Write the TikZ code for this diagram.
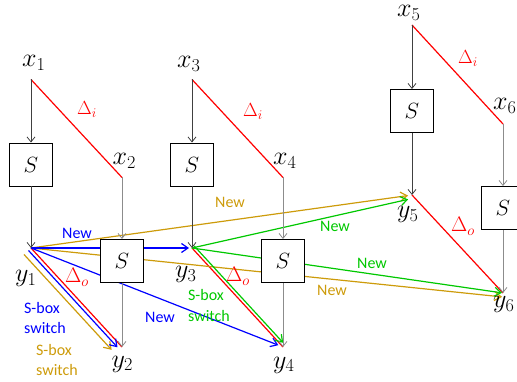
\documentclass[tikz,border=0pt]{standalone}
\usepackage{fix-cm}
\usepackage[no-math]{fontspec}
\newfontfamily\lab{Carlito}
\usetikzlibrary{arrows.meta,calc}
\definecolor{gold}{RGB}{205,155,10}
\definecolor{grn}{RGB}{0,200,0}
\definecolor{blu}{RGB}{0,0,255}
\definecolor{rd}{RGB}{255,0,0}
\begin{document}
\begin{tikzpicture}[x=1pt,y=-1pt,
 sbox/.style={draw=black, line width=0.9pt, fill=white, minimum size=43pt, inner sep=0pt, font=\fontsize{22}{24}\selectfont},
 var/.style={inner sep=0pt, anchor=base west, font=\fontsize{26}{30}\selectfont},
 dlti/.style={inner sep=0pt, anchor=base west, text=rd, font=\fontsize{19}{22}\selectfont},
 dlto/.style={inner sep=0pt, anchor=base west, text=rd, font=\fontsize{21}{24}\selectfont},
 lbl/.style={inner sep=0pt, anchor=base west, font=\lab\fontsize{16}{20}\selectfont},
 grayarr/.style={-{Straight Barb[length=5pt,width=8pt]}, line width=0.8pt},
 darkln/.style={grayarr, draw=black!75},
 lightln/.style={grayarr, draw=black!45},
 diffln/.style={draw=rd, line width=1.2pt},
 colarr/.style={-{Straight Barb[length=6.5pt,width=9pt]}, line width=1.2pt},
]
\useasboundingbox (0,0) rectangle (517,382);
% points
\coordinate (x1) at (31,79.5);
\coordinate (x2) at (122,177.5);
\coordinate (y1) at (31,248);
\coordinate (y2) at (122,347);
\coordinate (x3) at (192,79.5);
\coordinate (x4) at (283,177.5);
\coordinate (y3) at (192,248);
\coordinate (y4) at (283,347);
\coordinate (x5) at (412,25);
\coordinate (x6) at (503,124);
\coordinate (y5) at (412,195);
\coordinate (y6) at (503,293);
% offset end points
\coordinate (b1) at ($(y1)+(-2.5,2.5)$);
\coordinate (b2) at ($(y2)+(-2.5,2.5)$);
\coordinate (g1) at ($(y1)+(-7,6.5)$);
\coordinate (g2) at ($(y2)+(-7,6.5)$);
\coordinate (n3) at ($(y3)+(2.2,-2)$);
\coordinate (n4) at ($(y4)+(2.2,-2)$);
\coordinate (y5g) at ($(y5)+(0,3.5)$);
\coordinate (y6g) at ($(y6)+(0,4)$);
% red differences
\draw[diffln] (x1) -- (x2);
\draw[diffln] (x3) -- (x4);
\draw[diffln] (x5) -- (x6);
\draw[diffln] (y1) -- (y2);
\draw[diffln] (y3) -- (y4);
\draw[diffln] (y5) -- (y6);
% gold
\draw[colarr, draw=gold, shorten >=4pt] (y1) -- (y5);
\draw[colarr, draw=gold, shorten >=1pt] (y1) -- (y6g);
\draw[colarr, draw=gold, shorten >=5pt] (g1) -- (g2);
% blue
\draw[colarr, draw=blu, shorten >=3pt] (y1) -- (y3);
\draw[colarr, draw=blu, shorten >=5pt] (y1) -- (y4);
\draw[colarr, draw=blu, shorten >=3pt] (b1) -- (b2);
% green
\draw[colarr, draw=grn, shorten >=4pt] (y3) -- (y5g);
\draw[colarr, draw=grn, shorten >=1pt] (y3) -- (y6);
\draw[colarr, draw=grn, shorten >=3pt] (n3) -- (n4);
% S boxes
\node[sbox] (s1) at (31,164.5) {$S$};
\node[sbox] (s2) at (122,261) {$S$};
\node[sbox] (s3) at (192,164.5) {$S$};
\node[sbox] (s4) at (283,261) {$S$};
\node[sbox] (s5) at (412,111) {$S$};
\node[sbox] (s6) at (503,208) {$S$};
% gray arrows
\draw[darkln] (x1) -- (s1.north);
\draw[darkln] (s1.south) -- (y1);
\draw[lightln] (x2) -- (s2.north);
\draw[lightln] (s2.south) -- (y2);
\draw[darkln] (x3) -- (s3.north);
\draw[darkln] (s3.south) -- (y3);
\draw[lightln] (x4) -- (s4.north);
\draw[lightln] (s4.south) -- (y4);
\draw[darkln] (x5) -- (s5.north);
\draw[darkln] (s5.south) -- (y5);
\draw[lightln] (x6) -- (s6.north);
\draw[lightln] (s6.south) -- (y6);
% variable labels
\node[var] (lx1) at (22,67) {$x_1$};
\node[var] (lx2) at (112.5,165) {$x_2$};
\node[var] (lx3) at (177,68) {$x_3$};
\node[var] (lx4) at (273,165) {$x_4$};
\node[var] (lx5) at (397,16.5) {$x_5$};
\node[var] (lx6) at (493,110) {$x_6$};
\node[var] (ly1) at (15,282) {$y_1$};
\node[var] (ly2) at (111.5,367) {$y_2$};
\node[var] (ly3) at (175,278) {$y_3$};
\node[var] (ly4) at (273,368) {$y_4$};
\node[var] (ly5) at (397,218) {$y_5$};
\node[var] (ly6) at (493,308) {$y_6$};
% deltas
\node[dlti] (di1) at (77,115) {$\Delta_i$};
\node[dlti] (di2) at (243,117) {$\Delta_i$};
\node[dlti] (di3) at (458,64) {$\Delta_i$};
\node[dlto] (do1) at (65,283) {$\Delta_o$};
\node[dlto] (do2) at (226,282) {$\Delta_o$};
\node[dlto] (do3) at (451,232) {$\Delta_o$};
% text labels
\node[lbl, text=blu] (bn1) at (62,239) {New};
\node[lbl, text=blu] (bn2) at (145,323) {New};
\node[lbl, text=blu] (bs1) at (24,313) {S-box};
\node[lbl, text=blu] (bs2) at (24,333) {switch};
\node[lbl, text=gold] (gs1) at (36,355) {S-box};
\node[lbl, text=gold] (gs2) at (36,375) {switch};
\node[lbl, text=gold] (gn1) at (215,208) {New};
\node[lbl, text=gold] (gn2) at (317,295) {New};
\node[lbl, text=grn] (ns1) at (188,301) {S-box};
\node[lbl, text=grn] (ns2) at (188,321.5) {switch};
\node[lbl, text=grn] (nn1) at (320,232) {New};
\node[lbl, text=grn] (nn2) at (357,269) {New};
\end{tikzpicture}
\end{document}
